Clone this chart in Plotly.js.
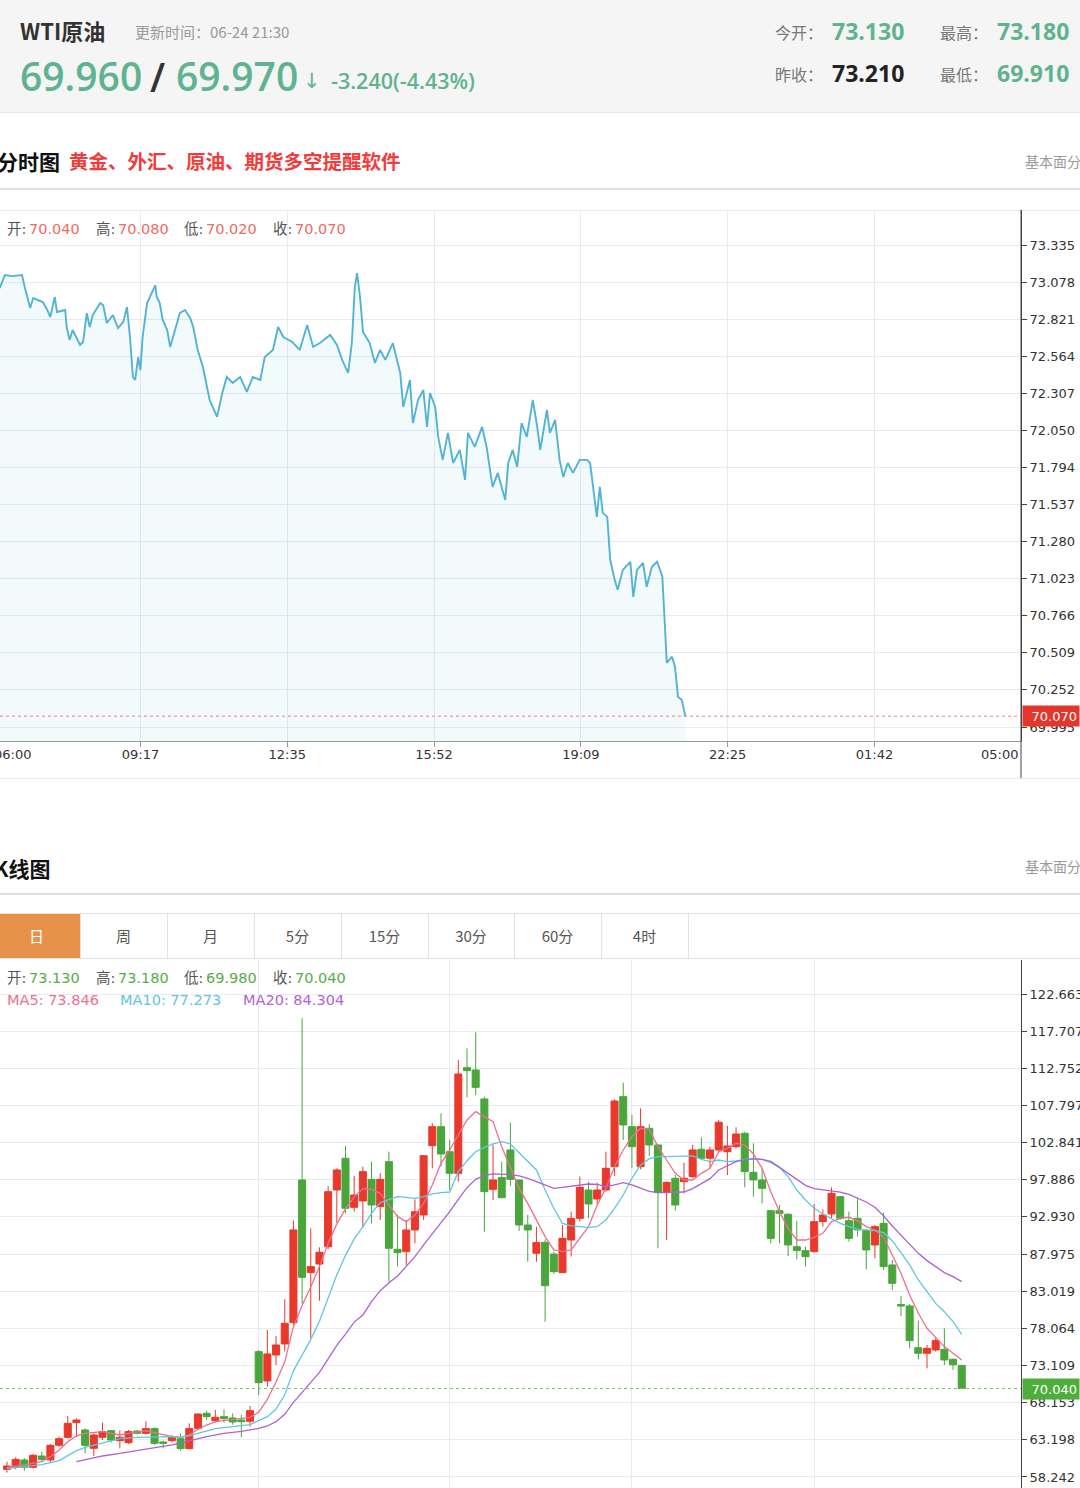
<!DOCTYPE html>
<html>
<head>
<meta charset="utf-8">
<script src="https://cdn.plot.ly/plotly-3.0.1.min.js"></script>
<style>
html,body{margin:0;padding:0;background:#fff;}
body{position:relative;width:1080px;height:1488px;overflow:hidden;font-family:"Noto Sans CJK SC","Noto Sans",sans-serif;}
.t{position:absolute;white-space:nowrap;}
.ln{position:absolute;left:0;width:1080px;}
#c1{position:absolute;left:0;top:210px;width:1080px;height:568px;}
#c2{position:absolute;left:0;top:960px;width:1080px;height:528px;}
.tab{position:absolute;top:914px;height:44px;line-height:44px;text-align:center;font-size:15px;color:#555;border-right:1px solid #e1e1e1;box-sizing:border-box;}
</style>
</head>
<body>
<div style="position:absolute;left:0;top:0;width:1080px;height:112px;background:#f5f5f5;border-bottom:1px solid #e6e6e6;"></div>
<div class="ln" style="top:188px;height:2px;background:#e0e0e0;"></div>
<div class="ln" style="top:210px;height:1px;background:#e9e9e9;"></div>
<div class="ln" style="top:778px;height:1px;background:#e9e9e9;"></div>
<div class="ln" style="top:893px;height:2px;background:#e0e0e0;"></div>
<div class="ln" style="top:913px;height:1px;background:#e1e1e1;"></div>
<div class="ln" style="top:958px;height:1px;background:#e1e1e1;"></div>
<div id="c1"></div>
<div id="c2"></div>
<script>
// ---------- intraday (分时图) data ----------
const priceTicks1 = [69.995,70.252,70.509,70.766,71.023,71.280,71.537,71.794,72.050,72.307,72.564,72.821,73.078,73.335];
const timeTickMin = [197.14,394.29,591.43,788.57,985.71,1182.86];   // minutes after 06:00
const timeTickText = ['09:17','12:35','15:52','19:09','22:25','01:42'];
const lineMin = [8,15,25,38,42,49,53,66,72,76,82,85,96,98,102,106,116,120,125,129,133,143,147,152,160,167,174,179,183,187,190,194,197,200,206,213,217,219,223,227,233,237,241,250,257,264,268,274,281,290,300,307,313,321,331,340,348,358,364,375,382,389,401,411,421,429,438,452,461,468,476,481,485,488,492,496,505,512,519,526,536,542,546,550,559,563,570,577,582,586,593,597,603,610,617,626,633,637,646,656,662,670,677,687,691,697,703,709,716,724,730,734,743,747,754,760,765,771,778,787,797,801,805,810,814,818,824,828,834,838,845,855,859,864,872,877,884,891,898,902,904,911,915,919,924,929];
const linePrice = [73.037,73.127,73.120,73.127,73.037,72.899,72.968,72.940,72.885,72.836,72.975,72.871,72.885,72.767,72.677,72.746,72.643,72.663,72.864,72.767,72.850,72.933,72.919,72.795,72.850,72.760,72.802,72.906,72.698,72.421,72.400,72.559,72.469,72.698,72.933,73.010,73.058,72.975,72.933,72.816,72.746,72.629,72.698,72.864,72.885,72.829,72.767,72.608,72.490,72.262,72.144,72.310,72.421,72.379,72.421,72.317,72.421,72.400,72.559,72.608,72.767,72.698,72.663,72.608,72.781,72.629,72.656,72.712,72.643,72.539,72.449,72.656,73.044,73.141,72.975,72.733,72.656,72.518,72.608,72.539,72.656,72.539,72.449,72.213,72.400,72.102,72.262,72.331,72.075,72.310,72.213,72.005,71.846,72.033,71.825,71.915,71.708,72.033,71.936,72.075,71.936,71.659,71.756,71.569,71.825,71.915,71.798,72.102,72.005,72.262,72.075,71.915,72.192,72.033,72.123,71.846,71.728,71.825,71.756,71.846,71.846,71.825,71.659,71.451,71.659,71.479,71.451,71.154,71.015,70.946,71.084,71.140,70.897,71.084,71.133,70.967,71.105,71.140,71.036,70.620,70.440,70.482,70.413,70.205,70.184,70.070];
const lastPrice1 = 70.070;

// ---------- daily K-line data ----------
const priceTicks2 = [58.242,63.198,68.153,73.109,78.064,83.019,87.975,92.930,97.886,102.841,107.797,112.752,117.707,122.663];
const monthStartIdx = [29,51,72,93];
const candleOpen = [59.26,59.53,60.51,59.53,61.04,60.51,62.46,63.53,65.49,64.51,62.06,63.53,64.42,63.08,62.82,64.37,64.06,64.69,62.91,63.08,63.35,62.02,64.73,66.73,65.75,66.29,66.11,65.84,65.66,74.96,71.05,74.51,75.98,78.83,97.86,85.50,86.65,88.96,96.52,100.75,94.21,95.05,97.94,94.30,100.30,88.61,88.30,91.19,93.19,102.43,104.97,101.63,98.74,112.84,112.53,108.66,96.61,98.17,101.86,97.86,91.85,88.07,89.54,87.98,85.50,89.85,92.74,96.52,95.32,96.52,99.63,108.97,104.97,99.63,104.75,102.52,96.17,98.08,97.63,98.30,101.95,100.75,101.86,101.63,102.30,104.08,98.88,97.86,93.76,93.76,93.28,88.96,88.43,88.30,92.30,93.32,95.63,92.43,92.74,91.10,89.19,92.07,86.52,81.23,81.05,75.49,74.74,75.18,75.27,73.94,73.13];
const candleHigh = [60.28,60.86,60.73,61.31,61.62,62.64,63.62,66.37,66.06,64.73,64.06,65.49,64.51,64.42,64.51,64.51,65.66,64.86,63.08,63.84,64.06,65.40,66.73,67.09,67.18,67.26,66.73,66.55,67.71,75.18,77.85,77.05,81.94,92.43,119.42,91.41,88.87,97.06,99.41,102.39,98.39,99.63,100.30,98.74,101.63,93.19,92.52,95.28,101.19,105.41,106.75,103.19,113.86,115.42,117.55,108.97,102.52,100.30,105.50,97.90,93.19,91.63,89.94,88.30,91.85,93.63,98.30,97.63,97.50,101.63,108.61,110.84,106.52,107.41,105.32,102.66,97.63,98.52,100.17,102.52,103.55,102.30,105.86,105.06,104.88,104.30,102.75,99.41,93.80,94.52,93.41,92.43,88.96,94.65,93.94,96.88,95.70,93.63,95.41,91.27,91.85,93.50,87.18,82.38,81.32,79.09,75.85,76.74,78.07,74.07,73.18];
const candleLow = [58.82,59.26,59.08,59.35,60.28,60.24,62.28,63.35,63.62,61.40,61.04,63.17,62.82,62.06,62.64,63.93,63.93,62.51,62.06,62.82,61.75,61.93,64.60,65.84,65.49,65.49,65.22,63.53,64.95,69.18,70.29,73.18,74.96,78.52,81.32,76.74,81.76,88.61,92.16,93.41,93.63,91.63,92.07,92.52,84.29,86.30,86.52,89.41,92.52,99.41,99.63,96.52,97.63,108.88,109.19,90.96,95.19,95.40,97.06,91.05,86.96,86.96,78.96,85.32,85.45,87.63,92.30,92.74,94.65,96.30,98.39,103.19,99.41,99.28,101.06,88.74,89.85,93.76,96.08,98.08,100.61,99.41,101.63,98.52,102.08,96.88,95.63,94.74,89.41,89.41,87.72,87.27,86.30,88.16,91.63,92.74,92.52,89.63,90.30,85.94,87.41,85.85,83.18,79.71,75.40,73.94,72.74,74.96,73.18,72.51,69.98];
const candleClose = [59.70,60.59,59.53,61.13,60.59,62.46,63.35,65.40,65.84,62.46,63.84,64.29,63.17,63.53,64.29,64.06,64.69,62.73,62.73,63.53,62.02,64.69,66.64,66.29,66.20,66.02,65.57,65.62,67.09,70.82,74.65,75.85,78.74,91.19,84.87,86.30,88.21,96.30,99.19,94.08,95.85,98.97,94.52,97.94,88.74,88.16,91.19,93.63,101.10,104.97,101.32,98.74,111.99,112.44,110.21,96.30,97.86,95.50,97.94,91.85,91.19,89.50,83.76,85.63,90.07,92.74,96.88,94.65,96.52,99.41,108.39,105.19,102.30,104.97,102.52,96.17,97.54,94.52,98.08,101.86,100.75,101.86,105.55,102.39,103.99,98.97,97.86,96.74,90.07,93.41,89.19,88.43,87.63,92.30,93.19,96.08,92.74,90.07,91.19,88.52,91.63,86.30,84.07,81.05,76.43,74.74,75.40,76.43,73.85,73.21,70.04];
const ma5Idx = [0,2,4,5,6,7,8,9,11,13,14,16,17,19,20,21,22,23,24,26,28,29,30,31,32,33,34,35,36,37,38,39,40,41,42,43,44,45,46,47,48,49,50,51,52,53,54,55,56,57,58,59,60,61,62,63,64,65,66,67,68,69,70,71,72,73,74,75,76,77,78,79,80,81,82,83,84,85,86,87,88,89,90,91,92,93,94,95,96,97,98,99,100,101,102,103,104,105,106,107,108,109,110];
const ma5Val = [59.53,59.84,60.28,60.95,61.84,62.95,63.71,64.06,64.29,63.84,64.06,64.42,64.15,63.62,63.53,63.84,64.60,65.17,65.62,65.93,66.20,66.9,68.6,70.9,73.6,78.3,81.1,83.6,86.3,89.4,92.0,94.0,95.6,96.70,96.61,96.08,94.52,92.96,92.30,93.19,94.74,97.19,100.08,101.86,103.86,105.86,106.97,106.30,105.64,102.30,99.41,96.74,94.74,92.52,90.30,88.52,88.30,88.52,90.07,91.63,94.52,96.74,99.63,101.86,103.63,104.75,104.61,102.30,100.52,98.74,97.85,97.85,98.74,99.41,101.6,102.08,102.75,102.52,101.32,99.41,96.30,93.63,91.41,89.85,89.85,90.21,90.74,92.30,92.74,92.88,92.43,91.63,91.19,90.21,87.85,85.41,82.51,80.07,78.07,76.87,75.63,74.74,73.846];
const ma10Idx = [0,2,4,6,7,8,9,11,13,15,17,19,20,21,22,23,24,26,28,29,30,31,32,33,34,35,36,37,38,39,40,41,42,43,44,45,46,47,48,49,50,51,52,53,54,55,56,57,58,59,60,61,62,63,64,65,66,67,68,69,70,71,72,73,74,75,76,77,78,79,80,81,82,83,84,85,86,87,88,89,90,91,92,93,94,95,96,97,98,99,100,101,102,103,104,105,106,107,108,109,110];
const ma10Val = [59.35,59.62,59.88,60.42,61.04,61.75,62.19,62.82,63.35,63.53,63.62,63.62,63.53,63.71,64.06,64.42,64.69,64.95,65.22,65.75,66.29,67.3,69.2,72.4,74.5,76.6,79.0,82.0,85.2,87.8,90.0,91.6,93.4,94.83,95.19,95.63,95.54,95.41,95.63,95.99,96.17,96.25,98.97,100.43,101.63,102.21,102.66,102.97,102.66,101.50,100.43,99.19,96.52,94.08,92.07,91.72,91.63,91.54,91.63,92.52,94.08,95.85,98.08,99.86,100.70,100.97,100.97,100.97,100.97,101.06,100.61,100.30,100.52,100.30,100.39,100.61,100.70,100.61,100.17,99.54,98.30,96.52,95.19,94.08,93.32,92.74,92.07,91.63,91.27,91.19,91.10,90.83,89.76,88.16,86.52,84.52,82.96,81.40,80.29,78.96,77.273];
const ma20Idx = [8,9,11,13,15,17,19,21,23,25,27,29,30,31,32,33,34,35,36,37,38,39,40,41,42,43,44,45,46,47,48,49,50,51,52,53,54,55,56,57,58,59,60,61,62,63,64,65,66,67,68,69,70,71,72,73,74,75,76,77,78,79,80,81,82,83,84,85,86,87,88,89,90,91,92,93,94,95,96,97,98,99,100,101,102,103,104,105,106,107,108,109,110];
const ma20Val = [60.28,60.55,61.04,61.40,61.75,62.19,62.51,63.04,63.62,64.06,64.33,64.73,65.04,65.62,66.60,68.2,69.5,70.8,72.2,74.0,75.8,77.3,78.9,79.85,81.63,83.09,84.16,85.05,86.30,87.63,89.19,90.65,92.16,93.63,95.28,96.83,97.94,98.48,98.66,98.66,98.57,98.39,98.08,97.63,97.19,96.74,96.88,97.05,97.19,97.32,97.28,96.97,97.19,97.50,97.19,96.74,96.34,96.17,96.17,96.17,96.25,96.70,97.32,98.03,99.19,99.77,100.30,100.57,100.66,100.61,100.34,99.54,98.74,97.94,97.14,96.70,96.52,96.43,96.25,95.94,95.41,94.92,94.21,93.05,91.72,90.52,89.41,88.07,87.10,86.30,85.50,84.96,84.304];
const lastPrice2 = 70.040;
const tabLabels = ['日','周','月','5分','15分','30分','60分','4时'];

// ---------- page text ----------
function T(left, cy, fs, text, css) {
  const d = document.createElement('div');
  d.className = 't';
  d.style.left = left + 'px';
  d.style.top = (cy - fs / 2) + 'px';
  d.style.fontSize = fs + 'px';
  d.style.lineHeight = fs + 'px';
  if (css) d.style.cssText += css;
  d.textContent = text;
  document.body.appendChild(d);
  return d;
}
const G = '#5fb38e';
const OS = 'font-family:"Open Sans","Noto Sans",sans-serif;';
T(20, 30, 22, 'WTI原油', 'font-weight:700;color:#333;');
T(135, 31, 15, '更新时间：06-24 21:30', 'color:#9a9a9a;');
T(20, 75, 39, '69.960', OS + 'font-weight:600;color:' + G + ';');
T(150, 76, 39, '/', OS + 'font-weight:600;color:#333;');
T(176, 75, 39, '69.970', OS + 'font-weight:600;color:' + G + ';');
T(303, 81, 21, '↓', 'font-family:"DejaVu Sans";color:' + G + ';');
T(331, 81, 21.5, '-3.240(-4.43%)', OS + 'font-weight:600;color:' + G + ';');
T(775, 32, 16, '今开：', 'color:#777;');
T(832, 31, 23, '73.130', OS + 'font-weight:700;color:' + G + ';');
T(940, 32, 16, '最高：', 'color:#777;');
T(997, 31, 23, '73.180', OS + 'font-weight:700;color:' + G + ';');
T(775, 74, 16, '昨收：', 'color:#777;');
T(832, 73, 23, '73.210', OS + 'font-weight:700;color:#222;');
T(940, 74, 16, '最低：', 'color:#777;');
T(997, 73, 23, '69.910', OS + 'font-weight:700;color:' + G + ';');

T(-3, 161, 21, '分时图', 'font-weight:700;color:#111;');
T(69, 161, 19.5, '黄金、外汇、原油、期货多空提醒软件', 'font-weight:700;color:#f23b3b;');
T(1025, 161, 14, '基本面分析', 'color:#999;');
T(-6, 868, 21, 'K线图', 'font-weight:700;color:#111;');
T(1025, 866, 14, '基本面分析', 'color:#999;');

tabLabels.forEach((lab, k) => {
  const l = Math.round(-7 + 86.9 * k), r = Math.round(-7 + 86.9 * (k + 1));
  const d = document.createElement('div');
  d.className = 'tab';
  d.style.left = l + 'px';
  d.style.width = (r - l + 1) + 'px';
  d.textContent = lab;
  if (k === 0) { d.style.background = '#e8914b'; d.style.color = '#fff'; }
  document.body.appendChild(d);
});

const IF = 'font-family:"DejaVu Sans","Noto Sans CJK SC",sans-serif;';
function infoRow(cy, vals, vcol) {
  const labs = ['开:', '高:', '低:', '收:'];
  const lefts = [7, 96, 184, 273];
  labs.forEach((lb, k) => {
    T(lefts[k], cy, 14.5, lb, IF + 'color:#555;');
    T(lefts[k] + 22, cy, 14.5, vals[k], IF + 'color:' + vcol + ';');
  });
}
infoRow(229, ['70.040', '70.080', '70.020', '70.070'], '#f26a5e');
infoRow(978, ['73.130', '73.180', '69.980', '70.040'], '#57ae45');
T(7, 1000, 14.5, 'MA5: 73.846', IF + 'color:#ee6f8e;');
T(120, 1000, 14.5, 'MA10: 77.273', IF + 'color:#62c4de;');
T(243, 1000, 14.5, 'MA20: 84.304', IF + 'color:#b064cf;');

// ---------- charts ----------
const gridC = '#e4ecf2';
const tickFont = {family: 'DejaVu Sans', size: 13, color: '#333'};
const cfg = {staticPlot: true, displayModeBar: false};

Plotly.newPlot('c1', [{
  type: 'scatter', mode: 'lines', x: lineMin, y: linePrice,
  line: {color: '#52b3d5', width: 1.9},
  fill: 'tozeroy', fillcolor: 'rgba(85,180,214,0.07)', hoverinfo: 'skip'
}], {
  width: 1080, height: 568, margin: {l: 0, r: 59, t: 0, b: 37, pad: 0},
  paper_bgcolor: 'rgba(0,0,0,0)', plot_bgcolor: 'rgba(0,0,0,0)', showlegend: false,
  xaxis: {range: [8.46, 1379.7], tickmode: 'array', tickvals: timeTickMin, ticktext: timeTickText,
    showgrid: true, gridcolor: gridC, zeroline: false, showline: true, linecolor: '#999',
    ticks: 'outside', ticklen: 5, tickcolor: '#999', tickfont: tickFont, ticklabelstandoff: -4},
  yaxis: {side: 'right', range: [69.898, 73.578], tickmode: 'array', tickvals: priceTicks1,
    ticktext: priceTicks1.map(v => v.toFixed(3)), showgrid: true, gridcolor: gridC, zeroline: false,
    showline: true, linecolor: '#444', ticks: 'outside', ticklen: 5, tickcolor: '#444', tickfont: tickFont},
  shapes: [
    {type: 'line', xref: 'paper', x0: 0, x1: 1, yref: 'y', y0: lastPrice1, y1: lastPrice1,
      line: {color: '#f27e7e', width: 1, dash: 'dot'}},
    {type: 'line', xref: 'paper', x0: 1, x1: 1, yref: 'paper', y0: -37 / 531, y1: 1,
      line: {color: '#444', width: 1}}
  ],
  annotations: [
    {xref: 'paper', x: 33 / 1021, xanchor: 'right', yref: 'paper', y: 0, yanchor: 'middle', yshift: -13,
      text: '06:00', showarrow: false, font: tickFont},
    {xref: 'paper', x: 1020 / 1021, xanchor: 'right', yref: 'paper', y: 0, yanchor: 'middle', yshift: -13,
      text: '05:00', showarrow: false, font: tickFont},
    {xref: 'paper', x: 1, xanchor: 'left', xshift: 1, yref: 'y', y: lastPrice1, yanchor: 'middle',
      text: lastPrice1.toFixed(3), showarrow: false, bgcolor: '#e5362b',
      font: {family: 'DejaVu Sans', size: 13, color: '#fff'}, width: 52, height: 16, borderpad: 2, align: 'right'}
  ]
}, cfg);

const candleIdx = candleOpen.map((_, i) => i);
Plotly.newPlot('c2', [
  {type: 'candlestick', x: candleIdx, open: candleOpen, high: candleHigh, low: candleLow, close: candleClose,
    increasing: {line: {color: '#e8392b', width: 1}, fillcolor: '#e8392b'},
    decreasing: {line: {color: '#4aa63b', width: 1}, fillcolor: '#4aa63b'},
    whiskerwidth: 0, hoverinfo: 'skip'},
  {type: 'scatter', mode: 'lines', x: ma5Idx, y: ma5Val, line: {color: '#ef6f8e', width: 1.3}, hoverinfo: 'skip'},
  {type: 'scatter', mode: 'lines', x: ma10Idx, y: ma10Val, line: {color: '#62c6df', width: 1.3}, hoverinfo: 'skip'},
  {type: 'scatter', mode: 'lines', x: ma20Idx, y: ma20Val, line: {color: '#b061d1', width: 1.3}, hoverinfo: 'skip'}
], {
  width: 1080, height: 528, margin: {l: 0, r: 59, t: 0, b: 0, pad: 0},
  paper_bgcolor: 'rgba(0,0,0,0)', plot_bgcolor: 'rgba(0,0,0,0)', showlegend: false,
  boxgap: 0.1, boxgroupgap: 0.1,
  xaxis: {range: [-0.807, 116.83], rangeslider: {visible: false}, tickmode: 'array', tickvals: monthStartIdx,
    showticklabels: false, ticks: '', showgrid: true, gridcolor: gridC, zeroline: false, showline: false},
  yaxis: {side: 'right', range: [56.770, 127.198], tickmode: 'array', tickvals: priceTicks2,
    ticktext: priceTicks2.map(v => v.toFixed(3)), showgrid: true, gridcolor: gridC, zeroline: false,
    showline: true, linecolor: '#444', ticks: 'outside', ticklen: 5, tickcolor: '#444', tickfont: tickFont},
  shapes: [
    {type: 'line', xref: 'paper', x0: 0, x1: 1, yref: 'y', y0: lastPrice2, y1: lastPrice2,
      line: {color: '#7cc35a', width: 1, dash: 'dot'}}
  ],
  annotations: [
    {xref: 'paper', x: 1, xanchor: 'left', xshift: 1, yref: 'y', y: lastPrice2, yanchor: 'middle',
      text: lastPrice2.toFixed(3), showarrow: false, bgcolor: '#4fae3b',
      font: {family: 'DejaVu Sans', size: 13, color: '#fff'}, width: 52, height: 16, borderpad: 2, align: 'right'}
  ]
}, cfg);
</script>
</body>
</html>
